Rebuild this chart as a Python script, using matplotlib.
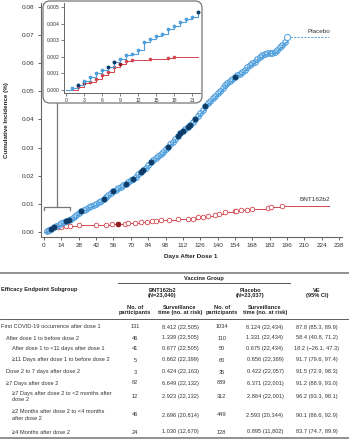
import numpy as np
import matplotlib
matplotlib.use("Agg")
import matplotlib.pyplot as plt
from matplotlib.patches import FancyBboxPatch
from matplotlib.ticker import FormatStrFormatter

plt.rcParams['font.family'] = ['Liberation Sans', 'DejaVu Sans']

#-- main plot: placebo cumulative incidence (%)
placebo_days = [0, 2, 4, 6, 8, 10, 12, 14, 16, 18, 20, 22, 24, 26, 28, 30, 32, 34, 36, 38,
                40, 42, 44, 46, 48, 50, 52, 54, 56, 58, 60, 62, 64, 66, 68, 70, 72, 74, 76, 78,
                80, 82, 84, 86, 88, 90, 92, 94, 96, 98, 100, 102, 104, 106, 108, 110, 112, 114, 116, 118,
                120, 122, 124, 126, 128, 130, 132, 134, 136, 138, 140, 142, 144, 146, 148, 150, 152, 154, 156, 158,
                160, 162, 164, 166, 168, 170, 172, 174, 176, 178, 180, 182, 184, 186, 188, 190, 192, 194, 196]
placebo_vals = [0.0000, 0.0003, 0.0007, 0.0012, 0.0017, 0.0021, 0.0025, 0.0031, 0.0034, 0.0039,
                0.0043, 0.0047, 0.0054, 0.0062, 0.0069, 0.0075, 0.0079, 0.0083, 0.0087, 0.0092,
                0.0096, 0.0100, 0.0105, 0.0111, 0.0117, 0.0124, 0.0131, 0.0138, 0.0145, 0.0150,
                0.0155, 0.0160, 0.0166, 0.0172, 0.0178, 0.0184, 0.0190, 0.0197, 0.0205, 0.0213,
                0.0219, 0.0226, 0.0238, 0.0248, 0.0256, 0.0262, 0.0270, 0.0278, 0.0286, 0.0294,
                0.0302, 0.0311, 0.0320, 0.0330, 0.0341, 0.0352, 0.0360, 0.0366, 0.0373, 0.0381,
                0.0390, 0.0402, 0.0413, 0.0424, 0.0435, 0.0447, 0.0457, 0.0466, 0.0475, 0.0484,
                0.0493, 0.0502, 0.0511, 0.0521, 0.0531, 0.0538, 0.0545, 0.0551, 0.0557, 0.0563,
                0.0570, 0.0577, 0.0585, 0.0593, 0.0600, 0.0606, 0.0614, 0.0622, 0.0629, 0.0633,
                0.0635, 0.0637, 0.0638, 0.0641, 0.0648, 0.0657, 0.0666, 0.0675, 0.0692]
placebo_dark_days = [6, 8, 18, 20, 30, 48, 56, 66, 72, 78, 80, 86, 100, 108, 110, 112, 116, 118, 122, 130, 154]

#-- main plot: BNT162b2
bnt_days = [0, 3, 6, 9, 11, 14, 18, 21, 28, 42, 50, 55, 60, 65, 68, 73, 78, 83, 87, 90,
            94, 101, 108, 116, 120, 124, 128, 132, 138, 141, 146, 154, 155, 159, 164, 168, 181, 183, 192]
bnt_vals = [0.0000, 0.0004, 0.0009, 0.0016, 0.0018, 0.0019, 0.0020, 0.0020, 0.0023, 0.0023,
            0.0025, 0.0027, 0.0030, 0.0030, 0.0031, 0.0032, 0.0036, 0.0037, 0.0039, 0.0039,
            0.0042, 0.0044, 0.0045, 0.0046, 0.0047, 0.0052, 0.0054, 0.0057, 0.0062, 0.0064,
            0.0070, 0.0073, 0.0076, 0.0078, 0.0078, 0.0080, 0.0084, 0.0090, 0.0094]
bnt_dark_days = [60]
follow_end_day = 230

#-- inset: days 0-22
inset_placebo_days = list(range(0, 23))
inset_placebo_vals = [0.0, 0.0001, 0.0003, 0.00055, 0.00077, 0.00105, 0.0012, 0.0014, 0.00167, 0.0019,
                      0.0021, 0.0022, 0.0024, 0.0029, 0.0031, 0.0033, 0.0034, 0.0037, 0.0039, 0.0041,
                      0.0043, 0.0044, 0.0047]
inset_placebo_dark = [2, 7, 8, 22]
inset_bnt_days = [0, 2, 3, 4, 5, 6, 7, 8, 9, 10, 11, 14, 17, 18]
inset_bnt_vals = [0.0, 0.0002, 0.0004, 0.0005, 0.00067, 0.0009, 0.0011, 0.0014, 0.0016, 0.00175,
                  0.0018, 0.0019, 0.00196, 0.0020]
inset_bnt_dark = [3, 9]
inset_end_day = 22

#-- table
row_labels = ["First COVID-19 occurrence after dose 1",
              "After dose 1 to before dose 2",
              "After dose 1 to <11 days after dose 1",
              "\u226511 Days after dose 1 to before dose 2",
              "Dose 2 to 7 days after dose 2",
              "\u22657 Days after dose 2",
              "\u22657 Days after dose 2 to <2 months after\ndose 2",
              "\u22652 Months after dose 2 to <4 months\nafter dose 2",
              "\u22654 Months after dose 2"]
row_levels = [0, 1, 2, 2, 1, 1, 2, 2, 2]
bnt_n = [131, 46, 41, 5, 3, 82, 12, 46, 24]
bnt_time = ["8.412 (22,505)", "1.339 (22,505)", "0.677 (22,505)", "0.662 (22,399)", "0.424 (22,163)",
            "6.649 (22,132)", "2.923 (22,132)", "2.696 (20,814)", "1.030 (12,670)"]
placebo_n = [1034, 110, 50, 60, 35, 889, 312, 449, 128]
placebo_time = ["8.124 (22,434)", "1.331 (22,434)", "0.675 (22,434)", "0.656 (22,369)", "0.422 (22,057)",
                "6.371 (22,001)", "2.884 (22,001)", "2.593 (20,344)", "0.895 (11,802)"]
ve_ci = ["87.8 (85.3, 89.9)", "58.4 (40.8, 71.2)", "18.2 (\u221226.1, 47.3)", "91.7 (79.6, 97.4)",
         "91.5 (72.9, 98.3)", "91.2 (88.9, 93.0)", "96.2 (93.3, 98.1)", "90.1 (86.6, 92.9)",
         "83.7 (74.7, 89.9)"]

#-- colors
blue   = '#4f9fdc'
navy   = '#0d3b66'
red    = '#d4454f'
dkred  = '#8e1b22'
gray   = '#666666'
txt    = '#333333'

fig = plt.figure(figsize=(3.49, 4.40), dpi=100)

#-- main axes
ax = fig.add_axes([0.1166, 0.462, 0.862, 0.5305], zorder=1)
ax.set_xlim(-2.7, 240)
ax.set_ylim(-0.0017, 0.0813)

pd_arr = np.array(placebo_days)
pv_arr = np.array(placebo_vals)
bd_arr = np.array(bnt_days)
bv_arr = np.array(bnt_vals)

#-- BNT162b2
ax.plot(list(bnt_days) + [follow_end_day], list(bnt_vals) + [bnt_vals[-1]],
        color=red, lw=0.7, drawstyle='steps-post', zorder=2)
ax.plot(bd_arr[1:], bv_arr[1:], 'o', ms=3.3, mfc='white', mec=red, mew=0.6, zorder=3)
m = np.isin(bd_arr, bnt_dark_days)
ax.plot(bd_arr[m], bv_arr[m], 'o', ms=3.3, mfc=dkred, mec=dkred, mew=0.6, zorder=4)

#-- placebo
ax.plot(pd_arr, pv_arr, color=blue, lw=1.0, drawstyle='steps-post', zorder=4)
ax.plot([placebo_days[-1], follow_end_day], [placebo_vals[-1], placebo_vals[-1]],
        color=blue, lw=0.7, ls=(0, (2, 1.5)), zorder=4)
ax.plot(pd_arr[1:-1], pv_arr[1:-1], 'o', ms=4.0, mfc='none', mec=blue, mew=0.8, zorder=5)
ax.plot(pd_arr[-1:], pv_arr[-1:], 'o', ms=4.4, mfc='white', mec=blue, mew=0.7, zorder=5)
m = np.isin(pd_arr, placebo_dark_days)
ax.plot(pd_arr[m], pv_arr[m], 'o', ms=3.6, mfc=navy, mec=navy, mew=0.5, zorder=6)

ax.text(231, 0.0713, 'Placebo', ha='right', va='center', fontsize=4.6, color=txt)
ax.text(231, 0.0114, 'BNT162b2', ha='right', va='center', fontsize=4.6, color=txt)

#-- bracket pointing to inset
ax.plot([0, 0, 21, 21], [0.0078, 0.0090, 0.0090, 0.0078], color='#777777', lw=0.9,
        clip_on=False, zorder=1)
ax.plot([10.5, 10.5], [0.0090, 0.0459], color='#777777', lw=0.9, clip_on=False, zorder=1)

ax.set_xticks(np.arange(0, 239, 14))
ax.set_yticks(np.arange(0, 0.081, 0.01))
ax.yaxis.set_major_formatter(FormatStrFormatter('%.2f'))
for s in ['top', 'right']:
    ax.spines[s].set_visible(False)
for s in ['left', 'bottom']:
    ax.spines[s].set_color(gray)
    ax.spines[s].set_linewidth(0.8)
ax.tick_params(labelsize=4.6, colors=gray, labelcolor=txt, length=2.5, width=0.7, pad=2)
ax.set_xlabel('Days After Dose 1', fontsize=4.5, fontweight='bold', color='#222222', labelpad=4)
ax.set_ylabel('Cumulative Incidence (%)', fontsize=4.5, fontweight='bold', color='#222222', labelpad=9)

#-- overlay in pixel coordinates (inset frame + table)
ov = fig.add_axes([0, 0, 1, 1], zorder=2)
ov.set_xlim(0, 349)
ov.set_ylim(440, 0)
ov.axis('off')
ov.add_patch(FancyBboxPatch((43, 1), 159, 102, boxstyle='round,pad=0,rounding_size=7',
                            fc='white', ec='#777777', lw=0.9))

#-- inset
ai = fig.add_axes([64/349, (440-93.3)/440, 136/349, 90/440], zorder=3)
ai.patch.set_alpha(0)
ai.set_xlim(-0.33, 22.3)
ai.set_ylim(-0.0002, 0.00525)
ai.plot(list(inset_bnt_days) + [inset_end_day], list(inset_bnt_vals) + [inset_bnt_vals[-1]],
        color=red, lw=0.7, drawstyle='steps-post')
ai.plot(inset_bnt_days[1:], inset_bnt_vals[1:], 'o', ms=1.6, color=red)
ibd = np.array(inset_bnt_days)
ibv = np.array(inset_bnt_vals)
m = np.isin(ibd, inset_bnt_dark)
ai.plot(ibd[m], ibv[m], 'o', ms=1.6, color=dkred)
ai.plot(inset_placebo_days, inset_placebo_vals, color=blue, lw=0.8, drawstyle='steps-post')
ai.plot(inset_placebo_days[1:], inset_placebo_vals[1:], 'o', ms=1.7, color=blue)
ipd = np.array(inset_placebo_days)
ipv = np.array(inset_placebo_vals)
m = np.isin(ipd, inset_placebo_dark)
ai.plot(ipd[m], ipv[m], 'o', ms=1.7, color=navy)
ai.set_xticks(np.arange(0, 22, 3))
ai.set_yticks(np.arange(0, 0.0051, 0.001))
ai.yaxis.set_major_formatter(FormatStrFormatter('%.3f'))
for s in ['top', 'right']:
    ai.spines[s].set_visible(False)
for s in ['left', 'bottom']:
    ai.spines[s].set_color(gray)
    ai.spines[s].set_linewidth(0.7)
ai.tick_params(labelsize=3.6, colors=gray, labelcolor=txt, length=2, width=0.6, pad=1.5)

#-- table
fs = 4.1
ov.plot([0, 349], [273, 273], color='#888888', lw=1.3)
ov.text(204, 278.5, 'Vaccine Group', ha='center', va='center', fontsize=fs, fontweight='bold', color='#222222')
ov.plot([118, 290], [283.5, 283.5], color='#555555', lw=0.7)
ov.text(1, 290, 'Efficacy Endpoint Subgroup', ha='left', va='center', fontsize=fs, fontweight='bold', color='#222222')
ov.text(162, 293, 'BNT162b2\n(N=23,040)', ha='center', va='center', fontsize=fs, fontweight='bold',
        color='#222222', linespacing=1.15)
ov.text(250, 293, 'Placebo\n(N=23,037)', ha='center', va='center', fontsize=fs, fontweight='bold',
        color='#222222', linespacing=1.15)
ov.text(317, 293, 'VE\n(95% CI)', ha='center', va='center', fontsize=fs, fontweight='bold',
        color='#222222', linespacing=1.15)
for xc in [135, 221.7]:
    ov.text(xc, 310, 'No. of\nparticipants', ha='center', va='center', fontsize=fs, fontweight='bold',
            color='#222222', linespacing=1.15)
for xc in [180, 265]:
    ov.text(xc, 310, 'Surveillance\ntime (no. at risk)', ha='center', va='center', fontsize=fs,
            fontweight='bold', color='#222222', linespacing=1.15)
ov.plot([0, 349], [319, 319], color='#444444', lw=0.6)

row_y = [327, 338, 348.5, 360, 372, 383, 396.5, 415, 432]
indent = [1, 6, 12]
for i, lab in enumerate(row_labels):
    y = row_y[i]
    ov.text(indent[row_levels[i]], y, lab, ha='left', va='center', fontsize=fs, color=txt, linespacing=1.3)
    ov.text(135, y, str(bnt_n[i]), ha='center', va='center', fontsize=fs, color=txt)
    ov.text(180, y, bnt_time[i], ha='center', va='center', fontsize=fs, color=txt)
    ov.text(221.7, y, str(placebo_n[i]), ha='center', va='center', fontsize=fs, color=txt)
    ov.text(265, y, placebo_time[i], ha='center', va='center', fontsize=fs, color=txt)
    ov.text(317, y, ve_ci[i], ha='center', va='center', fontsize=fs, color=txt)
ov.plot([0, 349], [438.5, 438.5], color='#888888', lw=1.3)

fig.savefig('out.png', dpi=100)
